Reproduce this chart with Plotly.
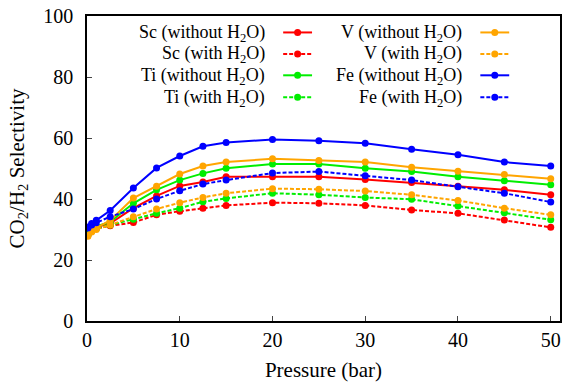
import plotly.graph_objects as go

pressure = [0.1, 0.5, 1, 2.5, 5, 7.5, 10, 12.5, 15, 20, 25, 30, 35, 40, 45, 50]

sc_without = [28.5, 29.8, 30.8, 32.0, 37.0, 41.0, 44.3, 45.6, 47.3, 47.3, 47.3, 46.4, 45.4, 44.2, 43.0, 41.4]
sc_with    = [28.3, 29.5, 30.3, 31.2, 32.3, 34.8, 36.0, 37.0, 37.9, 38.8, 38.6, 37.9, 36.4, 35.3, 33.1, 30.7]
ti_without = [28.5, 30.0, 31.0, 32.5, 38.6, 43.0, 46.2, 48.4, 50.1, 51.5, 51.5, 50.1, 49.0, 47.3, 46.0, 44.7]
ti_with    = [28.2, 29.5, 30.3, 31.5, 33.4, 35.3, 37.0, 39.1, 40.2, 41.9, 41.4, 40.5, 39.9, 37.7, 35.5, 33.2]
v_without  = [28.0, 29.5, 30.5, 33.0, 40.3, 44.2, 48.2, 50.8, 52.1, 53.2, 52.6, 52.1, 50.4, 49.1, 48.0, 46.6]
v_with     = [27.8, 29.2, 30.0, 31.5, 34.2, 36.7, 38.8, 40.5, 41.9, 43.4, 43.2, 42.6, 41.4, 39.5, 37.0, 34.8]
fe_without = [30.8, 32.0, 33.0, 36.2, 43.6, 50.2, 54.1, 57.3, 58.5, 59.5, 59.1, 58.3, 56.3, 54.5, 52.1, 50.8]
fe_with    = [30.5, 31.5, 32.2, 34.2, 36.7, 40.0, 42.7, 44.9, 46.2, 48.5, 49.0, 47.6, 46.2, 44.0, 41.9, 39.0]

names = ["Sc (without H<sub>2</sub>O)", "Sc (with H<sub>2</sub>O)",
         "Ti (without H<sub>2</sub>O)", "Ti (with H<sub>2</sub>O)",
         "V (without H<sub>2</sub>O)", "V (with H<sub>2</sub>O)",
         "Fe (without H<sub>2</sub>O)", "Fe (with H<sub>2</sub>O)"]
series = [sc_without, sc_with, ti_without, ti_with, v_without, v_with, fe_without, fe_with]
colors = ["#ff0000", "#ff0000", "#00ee00", "#00ee00", "#ffa500", "#ffa500", "#0000ff", "#0000ff"]
dashes = ["solid", "4px,2px"] * 4

FONT = "Liberation Serif"

fig = go.Figure()
for name, ys, c, d in zip(names, series, colors, dashes):
    fig.add_trace(go.Scatter(x=pressure, y=ys, name=name, mode="lines+markers",
                             line=dict(color=c, width=2, dash=d),
                             marker=dict(color=c, size=7), showlegend=False))

# plot area in pixels
L, R, T, B = 87, 562, 15, 321
W, H = R - L, B - T
def px(xp): return (xp - L) / W
def py(yp): return (B - yp) / H

shapes = []
annotations = []
rows = [31.5, 53, 74.5, 96.5]
cols = [(268, 284, 313), (466, 482, 511)]
for i, (name, c, d) in enumerate(zip(names, colors, dashes)):
    col = i // 4
    row = i % 4
    tx, lx0, lx1 = cols[col]
    yy = rows[row]
    annotations.append(dict(text=name, x=px(tx), y=py(yy + 1), xref="paper", yref="paper",
                            xanchor="right", yanchor="middle", showarrow=False,
                            font=dict(family=FONT, size=18, color="black")))
    shapes.append(dict(type="line", xref="paper", yref="paper",
                       x0=px(lx0), x1=px(lx1), y0=py(yy), y1=py(yy),
                       line=dict(color=c, width=2, dash=d)))
    xm = (lx0 + lx1) / 2
    shapes.append(dict(type="circle", xref="paper", yref="paper",
                       xsizemode="pixel", ysizemode="pixel",
                       xanchor=px(xm), yanchor=py(yy),
                       x0=-3.5, x1=3.5, y0=-3.5, y1=3.5,
                       fillcolor=c, line=dict(color=c, width=0)))

fig.update_layout(
    width=567, height=383,
    margin=dict(l=L, r=567 - R, t=T, b=383 - B),
    paper_bgcolor="white", plot_bgcolor="white",
    font=dict(family=FONT, size=20, color="black"),
    shapes=shapes, annotations=annotations,
    xaxis=dict(range=[0, 51], tickvals=[0, 10, 20, 30, 40, 50], ticks="inside", ticklen=5,
               tickwidth=1.2, showline=True, linecolor="black", linewidth=1.5, mirror=True,
               showgrid=False, zeroline=False,
               title=dict(text="Pressure (bar)", font=dict(family=FONT, size=21), standoff=13),
               tickfont=dict(family=FONT, size=20)),
    yaxis=dict(range=[0, 100], tickvals=[0, 20, 40, 60, 80, 100], ticks="inside", ticklen=5,
               tickwidth=1.2, showline=True, linecolor="black", linewidth=1.5, mirror=True,
               showgrid=False, zeroline=False, ticklabelstandoff=8,
               title=dict(text="CO<sub>2</sub>/H<sub>2</sub> Selectivity", font=dict(family=FONT, size=21), standoff=13),
               tickfont=dict(family=FONT, size=20)),
)

fig.write_html("out.html")
